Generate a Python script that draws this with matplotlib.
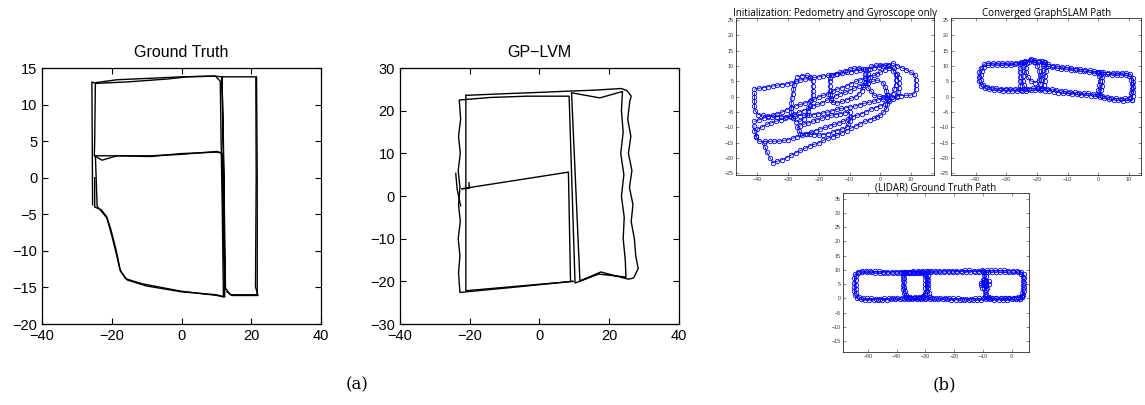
import numpy as np
import matplotlib.pyplot as plt

## (a) Ground truth and GP-LVM trajectories ##

gt_path1 = [(-25.5, -3.7), (-25.6, 5), (-25.7, 13.1), (-24.7, 12.9), (-15.6, 13.1), (-4.1, 13.5),
            (1.6, 13.8), (9.7, 13.9), (11.1, 13.2), (11.4, 3.4), (11.7, -5), (12.0, -16.3),
            (10.2, -16.1), (-0.3, -15.5), (-11.3, -14.5), (-16.1, -13.8), (-17.7, -12.5),
            (-18.5, -10.8), (-19.9, -8.1), (-21.4, -5.5), (-23.3, -4.4), (-24.2, -3.9),
            (-24.7, 3.0), (-18.5, 3.0), (-8.9, 2.9), (-0.3, 3.3), (10.2, 3.5), (11.4, 3.4)]

gt_path2 = [(12.4, -15.3), (12.1, 0), (11.6, 13.8), (16, 13.8), (21.5, 13.8), (21.7, 0),
            (21.7, -16.0), (20.2, -16.0), (14, -16.0), (12.6, -15.1), (12.3, -5), (12.0, 5),
            (11.6, 13.8), (9.5, 13.9), (0, 13.8), (-8.9, 13.6), (-18.5, 13.4), (-24.7, 13.0),
            (-24.9, 5), (-25, 3.0), (-22.8, 2.4), (-18.5, 3.0), (-8.9, 3.0), (0, 3.2), (10.2, 3.6),
            (11.6, 3.3), (11.9, -5), (12.4, -16.3), (10, -16), (0, -15.6), (-10, -14.8),
            (-15.5, -14.0), (-17.5, -12.8), (-18.7, -10), (-20.3, -7), (-21.5, -5.3), (-23, -4.4),
            (-24.9, -4), (-24.9, 0)]

gt_path3 = [(21.3, 13.6), (21.4, 0), (21.2, -14.9), (21.9, -16.1), (14.5, -16.1), (13, -15.6)]

gp_outer = [(-21.1, 23.6), (-9.5, 24), (0.1, 24.3), (8.7, 24.6), (15.4, 24.8), (23.5, 25.2),
            (25.1, 24.7), (26.3, 23.4), (25.9, 22.2), (25.3, 18), (26.2, 14), (25.5, 10), (26.5, 6),
            (25.8, 2), (26.8, -2), (26.3, -6), (27.2, -10), (27.6, -14), (28.3, -17), (27, -19.2),
            (25.5, -19.5), (17.6, -17.8), (11.6, -19.9), (9.2, 24.2), (17.3, 23), (23.8, 24.5),
            (23.5, 20), (24, 15), (23.3, 10), (24.2, 5), (23.5, 0), (24.3, -5), (24, -10),
            (24.6, -15), (24.8, -19), (17, -18.3), (10.2, -20.4), (8.5, 23.4), (-3.7, 23.4),
            (-14.2, 23.1), (-23, 22.5), (-22.6, 18), (-23.2, 14), (-22.7, 10), (-23.3, 6),
            (-22.8, 2), (-23.2, -2), (-22.7, -6), (-23.3, -10), (-22.8, -14), (-23.2, -18),
            (-22.8, -22.6), (-7.5, -21.4), (9.6, -20.0)]
gp_inner_left = [(-21.1, 23.6), (-21.1, -22.2), (9.6, -20.0)]
gp_inner_rect = [(-20.2, 3.1), (-20.2, 1.8), (-22.3, 1.7), (8.3, 5.6), (8.9, -19.9)]
gp_squiggle = [(-24, 5.3), (-23.6, 1.6), (-22.6, -2.3)]

## (b) Pedometry / GraphSLAM / LIDAR paths ##

init_loops = [
    [(-41, 2.5), (-39.5, 2.8), (-38, 3), (-36.5, 3.3), (-35, 3.5), (-33.5, 3.8), (-32, 4),
     (-30.5, 4.2), (-29, 4.5), (-27.5, 5), (-26, 5.5), (-24.5, 5.8), (-23, 6), (-21.5, 6.3),
     (-20, 6.5), (-18.5, 6.8), (-17, 7), (-15.5, 7.2), (-14, 7.5), (-12.5, 7.8), (-11, 8),
     (-9.5, 8.2), (-8, 8.5), (-6.5, 8.8), (-5, 9), (-3.5, 9.2), (-2, 9.5), (-0.5, 9.8), (1, 10),
     (2.5, 10.5), (4, 11), (5.5, 10.2), (7, 9.5), (8.5, 8.8), (10, 8), (11.3, 7.2), (11.5, 5.5),
     (11.5, 4), (11.5, 2.5), (11, 1), (9.8, 0.5), (8.3, 0.5), (6.8, 0.4), (5.3, 0.2), (3.8, 0),
     (2.3, -0.3), (0.8, -0.6), (-0.7, -1), (-2.2, -1.5), (-3.7, -1.8), (-5.2, -2.1), (-6.7, -2.6),
     (-8.2, -3), (-9.7, -3.3), (-11.2, -3.6), (-12.7, -3.8), (-14.2, -4.1), (-15.7, -4.6),
     (-17.2, -5), (-18.7, -5.3), (-20.2, -5.5), (-21.7, -5.8), (-23.2, -6), (-24.7, -6),
     (-26.2, -6.1), (-27.7, -6.3), (-29.2, -6.5), (-30.7, -6.5), (-32.2, -6.5), (-33.7, -6.5),
     (-35.2, -6.5), (-36.7, -6.3), (-38.2, -6), (-39.7, -5.8), (-40.8, -4.5), (-41, -3),
     (-41, -1.5), (-41, 0), (-41, 1.2)],
    [(-41, -8), (-39.5, -7.5), (-38, -7), (-36.5, -6.5), (-35, -6), (-33.5, -5.5), (-32, -5),
     (-30.5, -4.2), (-29, -3.5), (-27.5, -3), (-26, -2.5), (-24.5, -2), (-23, -1.5), (-21.5, -0.8),
     (-20, 0), (-18.5, 0.5), (-17, 1), (-15.5, 1.8), (-14, 2.5), (-12.5, 3), (-11, 3.5),
     (-9.5, 4.3), (-8, 5), (-6.5, 5.5), (-5, 6), (-3.5, 6.5), (-2, 7), (-1, 7.5), (0, 8),
     (1.5, 8.8), (3, 9.5), (4.5, 9.3), (5.5, 7.5), (6, 6), (6, 4.5), (6, 3), (5.8, 1.5), (5.5, 0),
     (4.3, -0.8), (3, -1.5), (1.5, -2.2), (0, -3), (-1.5, -3.5), (-3, -4), (-4.5, -4.8), (-6, -5.5),
     (-7.5, -6), (-9, -6.5), (-10.5, -7.2), (-12, -8), (-13.5, -8.5), (-15, -9), (-16.5, -9.5),
     (-18, -10), (-19.5, -10.5), (-21, -11), (-22.5, -11.5), (-24, -12), (-25.5, -12.5),
     (-27, -13), (-28.5, -13.5), (-30, -14), (-31.5, -14.2), (-33, -14.5), (-34.5, -14.5),
     (-36, -14.5), (-37.5, -14.5), (-39.5, -14.5), (-40.5, -12.8), (-41, -11), (-41.2, -9.5)],
    [(-38, -15), (-37.5, -16.5), (-37, -18), (-36, -19.8), (-35, -21.5), (-33.5, -21), (-32, -20.5),
     (-30.5, -19.8), (-29, -19), (-27.5, -18.2), (-26, -17.5), (-24.5, -16.8), (-23, -16),
     (-21.5, -15.5), (-20, -15), (-18.5, -14.2), (-17, -13.5), (-15.5, -13), (-14, -12.5),
     (-12.5, -11.8), (-11, -11), (-9.5, -10.2), (-8, -9.5), (-6.5, -8.8), (-5, -8), (-3.5, -7.5),
     (-2, -7), (-1, -6.5), (0, -6), (1, -5), (2, -4), (2.3, -2.5), (2.5, -1), (2.3, 0.5), (2, 2),
     (1.5, 3.3), (1, 4.5), (-1, 5.5), (-2.5, 5), (-4, 4.5), (-5.5, 4), (-7, 3.5), (-8.5, 2.8),
     (-10, 2), (-11.5, 1.5), (-13, 1), (-14.5, 0.3), (-16, -0.5), (-17.5, -1.2), (-19, -2),
     (-20.5, -2.5), (-22, -3), (-23.5, -3.8), (-25, -4.5), (-26.5, -5), (-28, -5.5), (-29.5, -6.2),
     (-31, -7), (-32.5, -7.5), (-34, -8), (-35.5, -8.5), (-37, -9), (-38.5, -9.8), (-40, -10.5),
     (-40.5, -13)],
    [(-27, 6.5), (-25.5, 6.9), (-24, 7), (-22.8, 6.5), (-22, 5), (-22, 3.5), (-22, 2), (-22, 0.5),
     (-22.5, -1.2), (-23, -3), (-23.5, -4.5), (-24, -6), (-25, -7.2), (-26, -8), (-27.5, -8.2),
     (-28.5, -6.8), (-29, -5), (-29, -3.5), (-29, -2), (-28.8, -0.5), (-28.5, 1), (-28.3, 2.5),
     (-28, 4), (-27.5, 5.3)],
    [(-16, 7), (-14.5, 7.5), (-13, 8), (-11.5, 8.5), (-10, 9), (-8.5, 9.3), (-7, 9.5), (-5.5, 9),
     (-5, 7.5), (-5, 6), (-5, 4.5), (-5.5, 3.3), (-6, 2), (-7, 1), (-8, 0), (-9.5, -0.5), (-11, -1),
     (-12.5, -1.5), (-14, -2), (-15.3, -1.8), (-16, -1), (-16.3, 0.5), (-16.5, 2), (-16.5, 3.5),
     (-16.5, 5), (-16.3, 6)],
    [(-3, 10), (-1.5, 10.3), (0, 10.5), (1.5, 10.3), (3, 10), (4.2, 8.5), (5, 7), (5, 5.5), (5, 4),
     (4.5, 2.5), (4, 1), (2.5, 0.5), (1, 0), (-0.5, 0.2), (-2, 0.5), (-3, 1.8), (-4, 3), (-4, 4.5),
     (-4, 6), (-4, 7.5), (-4, 9)],
    [(-25, -9), (-23.5, -8.5), (-22, -8), (-20.5, -7.5), (-19, -7), (-17.5, -6.5), (-16, -6),
     (-14.5, -5.8), (-13, -5.5), (-11.5, -5.2), (-10, -5), (-10, -6.5), (-10, -8), (-10.5, -9),
     (-11, -10), (-12.5, -10.5), (-14, -11), (-15.5, -11.5), (-17, -12), (-18.5, -12.3),
     (-20, -12.5), (-21.5, -12.3), (-23, -12), (-24.5, -12), (-26, -12), (-26.5, -11), (-27, -10),
     (-26, -9.5)],
]

slam_loops = [
    [(11, -1), (9.5, -1.2), (8, -1.3), (6.5, -1.2), (5, -1), (3.5, -0.8), (2, -0.5), (0.5, -0.1),
     (-1, 0.2), (-2.5, 0.4), (-4, 0.6), (-5.5, 0.7), (-7, 0.8), (-8.5, 1), (-10, 1.1), (-11.5, 1.2),
     (-13, 1.4), (-14.5, 1.7), (-16, 1.9), (-17.5, 2), (-19, 2.1), (-20.5, 2.2), (-22, 2.1),
     (-23.5, 2), (-25, 2), (-26.5, 2), (-28, 2), (-29.5, 2), (-31, 2), (-32.5, 2.1), (-34, 2.2),
     (-35.5, 2.4), (-37, 2.8), (-38.3, 3.6), (-38.9, 5), (-39, 6.5), (-38.8, 8), (-38.3, 9.5),
     (-37.2, 10.6), (-35.8, 11), (-34.3, 11), (-32.8, 11), (-31.3, 11), (-29.8, 11), (-28.3, 11),
     (-26.8, 11.1), (-25.3, 11.2), (-23.8, 11.6), (-22.3, 12), (-20.8, 12.1), (-19.3, 11.8),
     (-17.8, 11.2), (-16.3, 10.6), (-14.8, 10.2), (-13.3, 10), (-11.8, 9.8), (-10.3, 9.6),
     (-8.8, 9.4), (-7.3, 9.2), (-5.8, 9), (-4.3, 8.8), (-2.8, 8.6), (-1.3, 8.3), (0.2, 8.1),
     (1.7, 8), (3.2, 7.9), (4.7, 7.8), (6.2, 7.8), (7.7, 7.8), (9.2, 7.7), (10.5, 7.4), (11.3, 6.2),
     (11.5, 4.7), (11.5, 3.2), (11.4, 1.7), (11.2, 0.3), (11, -1)],
    [(10.3, -0.3), (8.8, -0.5), (7.3, -0.6), (5.8, -0.5), (4.3, -0.3), (2.8, 0), (1.3, 0.4),
     (-0.2, 0.7), (-1.7, 0.9), (-3.2, 1.1), (-4.7, 1.2), (-6.2, 1.3), (-7.7, 1.5), (-9.2, 1.6),
     (-10.7, 1.8), (-12.2, 2), (-13.7, 2.3), (-15.2, 2.5), (-16.7, 2.7), (-18.2, 2.8), (-19.7, 2.8),
     (-21.2, 2.8), (-22.7, 2.7), (-24.2, 2.6), (-25.7, 2.6), (-27.2, 2.6), (-28.7, 2.6),
     (-30.2, 2.7), (-31.7, 2.7), (-33.2, 2.8), (-34.7, 3), (-36.2, 3.3), (-37.5, 4), (-38.2, 5.5),
     (-38.3, 7), (-38, 8.5), (-37.3, 9.8), (-36, 10.3), (-34.5, 10.4), (-33, 10.4), (-31.5, 10.4),
     (-30, 10.5), (-28.5, 10.5), (-27, 10.6), (-25.5, 10.8), (-24, 11.2), (-22.5, 11.5),
     (-21, 11.5), (-19.5, 11.2), (-18, 10.6), (-16.5, 10), (-15, 9.6), (-13.5, 9.4), (-12, 9.2),
     (-10.5, 9), (-9, 8.9), (-7.5, 8.7), (-6, 8.5), (-4.5, 8.3), (-3, 8.1), (-1.5, 7.9), (0, 7.6),
     (1.5, 7.4), (3, 7.3), (4.5, 7.2), (6, 7.2), (7.5, 7.2), (9, 7.1), (10.2, 6.8), (10.8, 5.6),
     (10.9, 4.1), (10.9, 2.6), (10.7, 1.1), (10.3, -0.3)],
    [(-25.2, 11), (-25.5, 9.5), (-25.6, 8), (-25.6, 6.5), (-25.5, 5), (-25.4, 3.5), (-25.2, 2.2)],
    [(-24.2, 11.4), (-24.5, 9.8), (-24.6, 8.3), (-24.5, 6.8), (-24.6, 5.3), (-24.3, 3.8),
     (-23.6, 2.6)],
    [(-17.2, 11.3), (-16.9, 9.8), (-17, 8.3), (-17.3, 6.8), (-17.5, 5.3), (-17.8, 3.8),
     (-18.5, 2.6)],
    [(-18.2, 11.6), (-18.0, 10.1), (-18.1, 8.6), (-18.4, 7.1), (-18.6, 5.6), (-18.9, 4.1),
     (-19.8, 3.0)],
    [(-22, 12.3), (-23.2, 11), (-23.6, 9.5), (-23.5, 8), (-23, 6.5), (-22, 5.2), (-20.5, 4.6),
     (-19.3, 5.5), (-19, 7), (-19.2, 8.5), (-19.8, 10), (-20.6, 11.3)],
    [(-0.3, 8.2), (0.3, 6.8), (0.5, 5.3), (0.4, 3.8), (0.1, 2.3), (-0.4, 0.9)],
    [(0.8, 8.1), (1.3, 6.6), (1.4, 5.1), (1.3, 3.6), (1.0, 2.1), (0.6, 0.6)],
]

lidar_loops = [
    [(3, -0.3), (1.5, -0.3), (0, -0.3), (-1.5, -0.4), (-3, -0.4), (-4.5, -0.4), (-6, -0.4),
     (-7.5, -0.3), (-9, -0.3), (-10.5, -0.4), (-12, -0.5), (-13.5, -0.5), (-15, -0.5),
     (-16.5, -0.5), (-18, -0.5), (-19.5, -0.4), (-21, -0.4), (-22.5, -0.3), (-24, -0.3),
     (-25.5, -0.3), (-27, -0.3), (-28.5, -0.2), (-30, -0.3), (-31.5, -0.3), (-33, -0.3),
     (-34.5, -0.3), (-36, -0.3), (-37.5, -0.2), (-39, -0.3), (-40.5, -0.3), (-42, -0.3),
     (-43.5, -0.4), (-45, -0.4), (-46.5, -0.5), (-48, -0.5), (-49.5, -0.4), (-51, -0.4),
     (-52.5, -0.3), (-53.8, 0), (-54.6, 1.2), (-54.8, 2.6), (-54.8, 4), (-54.8, 5.5), (-54.7, 7),
     (-54.5, 8.4), (-53.6, 9.3), (-52.2, 9.5), (-50.7, 9.5), (-49.2, 9.5), (-47.7, 9.5),
     (-46.2, 9.5), (-44.7, 9.4), (-43.2, 9.4), (-41.7, 9.4), (-40.2, 9.4), (-38.7, 9.4),
     (-37.2, 9.3), (-35.7, 9.3), (-34.2, 9.4), (-32.7, 9.4), (-31.2, 9.5), (-29.7, 9.5),
     (-28.2, 9.5), (-26.7, 9.5), (-25.2, 9.6), (-23.7, 9.6), (-22.2, 9.7), (-20.7, 9.7),
     (-19.2, 9.7), (-17.7, 9.7), (-16.2, 9.8), (-14.7, 9.8), (-13.2, 9.7), (-11.7, 9.7),
     (-10.2, 9.8), (-8.7, 9.8), (-7.2, 9.8), (-5.7, 9.8), (-4.2, 9.8), (-2.7, 9.8), (-1.2, 9.7),
     (0.3, 9.7), (1.8, 9.6), (3.2, 9.4), (4.2, 8.4), (4.3, 7), (4.3, 5.5), (4.3, 4), (4.2, 2.5),
     (4, 1.2), (3, -0.3)],
    [(3.6, 0.4), (2.2, 0.2), (0.7, 0.2), (-0.8, 0.1), (-2.3, 0.1), (-3.8, 0.1), (-5.3, 0.1),
     (-6.8, 0.2), (-8.3, 0.3), (-9.8, 0.2), (-11.3, 0), (-12.8, 0), (-14.3, -0.1), (-15.8, -0.1),
     (-17.3, -0.1), (-18.8, 0), (-20.3, 0), (-21.8, 0.1), (-23.3, 0.1), (-24.8, 0.1), (-26.3, 0.1),
     (-27.8, 0.2), (-29.3, 0.3), (-30.8, 0.1), (-32.3, 0.1), (-33.8, 0.1), (-35.3, 0.1),
     (-36.8, 0.2), (-38.3, 0.2), (-39.8, 0.1), (-41.3, 0.1), (-42.8, 0), (-44.3, 0), (-45.8, -0.1),
     (-47.3, -0.1), (-48.8, 0), (-50.3, 0), (-51.8, 0.1), (-53.2, 0.5), (-54.1, 1.8), (-54.3, 3.3),
     (-54.3, 4.8), (-54.3, 6.3), (-54.1, 7.8), (-53.3, 8.9), (-51.9, 9.1), (-50.4, 9.1),
     (-48.9, 9.1), (-47.4, 9.0), (-45.9, 9.0), (-44.4, 9.0), (-42.9, 9.0), (-41.4, 9.0),
     (-39.9, 8.9), (-38.4, 8.9), (-36.9, 8.9), (-35.4, 8.9), (-33.9, 9.0), (-32.4, 9.0),
     (-30.9, 9.1), (-29.4, 9.1), (-27.9, 9.1), (-26.4, 9.2), (-24.9, 9.2), (-23.4, 9.3),
     (-21.9, 9.3), (-20.4, 9.3), (-18.9, 9.4), (-17.4, 9.4), (-15.9, 9.4), (-14.4, 9.4),
     (-12.9, 9.4), (-11.4, 9.4), (-9.9, 9.4), (-8.4, 9.3), (-6.9, 9.3), (-5.4, 9.3), (-3.9, 9.3),
     (-2.4, 9.3), (-0.9, 9.2), (0.6, 9.2), (2.1, 9.1), (3.3, 8.6), (3.8, 7.6), (3.9, 6.2),
     (3.9, 4.7), (3.8, 3.2), (3.7, 1.8), (3.6, 0.4)],
    [(-37.8, 9.2), (-37.9, 7.8), (-37.9, 6.3), (-37.8, 4.8), (-37.8, 3.3), (-37.6, 1.8),
     (-36.8, 0.6), (-35.4, 0.1), (-33.9, 0), (-32.4, 0.1), (-31, 0.4), (-30, 1.3), (-29.6, 2.7),
     (-29.5, 4.2), (-29.5, 5.7), (-29.6, 7.2), (-30.1, 8.5), (-31.2, 9.3), (-32.7, 9.5),
     (-34.2, 9.5), (-35.7, 9.4), (-37.2, 9.3)],
    [(-37.3, 8.8), (-37.4, 7.2), (-37.4, 5.6), (-37.3, 4.0), (-37.2, 2.5), (-36.6, 1.2),
     (-35.3, 0.6), (-33.8, 0.5), (-32.3, 0.6), (-31.0, 1.0), (-30.2, 2.0), (-30.0, 3.5),
     (-30.0, 5.0), (-30.0, 6.5), (-30.3, 7.9), (-31.3, 8.8), (-32.8, 9.0), (-34.3, 9.0),
     (-35.8, 8.9), (-37.3, 8.8)],
    [(-29.2, 9.5), (-29.0, 8), (-29.0, 6.5), (-29, 5), (-29, 3.5), (-28.8, 2), (-28.3, 0.6)],
    [(-9.8, 9.6), (-9.7, 8.2), (-9.5, 6.8), (-9.6, 5.3), (-9.5, 3.8), (-9.4, 2.3), (-9.2, 0.9),
     (-8.3, 0.1), (-6.8, 0), (-5.3, 0.1), (-3.8, 0.1), (-2.3, 0.2), (-0.8, 0.2), (0.7, 0.3),
     (2.2, 0.4), (3.5, 0.8)],
    [(-9.0, 9.3), (-9.0, 7.7), (-8.9, 6.2), (-9.0, 4.6), (-8.9, 3.0), (-8.8, 1.5), (-8.0, 0.6)],
    [(-10.5, 5.5), (-10, 6.5), (-9, 4.5), (-8, 5), (-8.5, 3.5), (-10.2, 3.8), (-8, 6),
     (-10.8, 4.6), (-9.2, 6)],
]


plt.rcParams['font.family'] = ['Liberation Sans', 'DejaVu Sans']
fig = plt.figure(figsize=(11.45, 4.05), dpi=100)


def black_axes(rect, title, paths, ylim, yticks):
    ax = fig.add_axes(rect)
    for p in paths:
        p = np.array(p)
        ax.plot(p[:, 0], p[:, 1], color='black', lw=1.0)
    ax.set_xlim(-40, 40)
    ax.set_ylim(*ylim)
    ax.set_xticks([-40, -20, 0, 20, 40])
    ax.set_yticks(yticks)
    ax.tick_params(direction='in', top=True, right=True, labelsize=10.5, length=4, width=0.8)
    for s in ax.spines.values():
        s.set_linewidth(0.9)
    ax.set_title(title, fontsize=11.5, pad=8)
    return ax


def blue_axes(rect, title, loops, xlim, ylim, xticks, yticks):
    ax = fig.add_axes(rect)
    for p in loops:
        p = np.array(p)
        ax.plot(p[:, 0], p[:, 1], color='#0000ff', lw=0.6, marker='o', ms=3.2,
                mfc='none', mew=0.6)
    ax.set_xlim(*xlim)
    ax.set_ylim(*ylim)
    ax.set_xticks(xticks)
    ax.set_yticks(yticks)
    ax.tick_params(direction='in', top=True, right=True, labelsize=3.8, length=2, width=0.4,
                   pad=1.5, colors='#333333')
    for s in ax.spines.values():
        s.set_linewidth(0.5)
    ax.set_title(title, fontsize=7, pad=1.5, family='Open Sans')
    return ax


black_axes([0.0367, 0.2, 0.2437, 0.632], 'Ground Truth', [gt_path1, gt_path2, gt_path3],
           (-20, 15), [-20, -15, -10, -5, 0, 5, 10, 15])
black_axes([0.3493, 0.2, 0.2437, 0.632], 'GP\u2212LVM',
           [gp_outer, gp_inner_left, gp_inner_rect, gp_squiggle],
           (-30, 30), [-30, -20, -10, 0, 10, 20, 30])

blue_axes([0.6428, 0.5679, 0.1729, 0.3877], 'Initialization: Pedometry and Gyroscope only',
          init_loops, (-47, 17.5), (-25.5, 25.7), [-40, -30, -20, -10, 0, 10],
          np.arange(-25, 26, 5))
blue_axes([0.8306, 0.5679, 0.166, 0.3877], 'Converged GraphSLAM Path',
          slam_loops, (-48, 14), (-25.5, 25.7), [-40, -30, -20, -10, 0, 10],
          np.arange(-25, 26, 5))
blue_axes([0.7362, 0.1309, 0.1624, 0.3926], '(LIDAR) Ground Truth Path',
          lidar_loops, (-58.7, 6), (-18.8, 37), [-50, -40, -30, -20, -10, 0],
          np.arange(-15, 36, 5))

fig.text(0.3118, 0.049, '(a)', ha='center', va='center', fontsize=12, family='DejaVu Serif')
fig.text(0.825, 0.049, '(b)', ha='center', va='center', fontsize=12, family='DejaVu Serif')

plt.savefig('out.png', dpi=100)
